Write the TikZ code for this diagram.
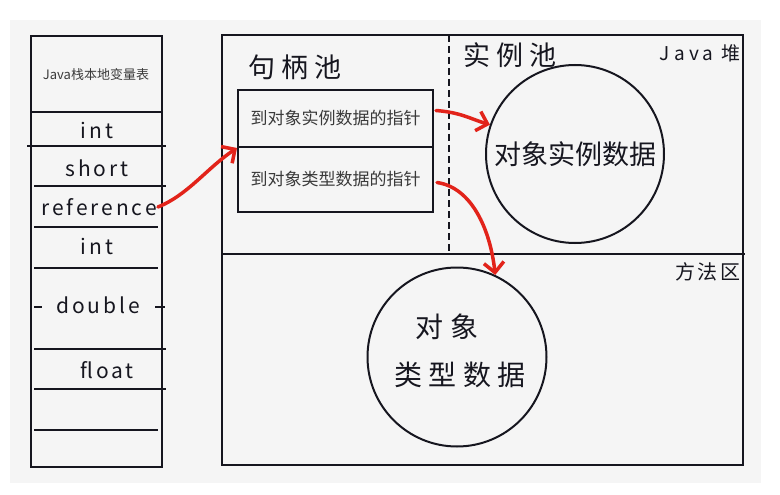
\documentclass[tikz,border=0pt]{standalone}
\usepackage{fontspec}
\setmainfont{Noto Sans CJK SC}
\newfontfamily\handFont[LetterSpace=14]{Noto Sans CJK SC}
\newfontfamily\wideFont[LetterSpace=22]{Noto Sans CJK SC}
\usetikzlibrary{arrows.meta,calc}

\begin{document}
\begin{tikzpicture}[x=1pt, y=-1pt]
    \definecolor{bgColour}{HTML}{F5F5F5}
    \definecolor{lineColour}{HTML}{16161F}
    \definecolor{arrowColour}{HTML}{E2231A}
    \definecolor{smallTextColour}{HTML}{3A3A3A}

    \tikzset{
        line/.style={draw=lineColour, line width=2pt},
        cell/.style={inner sep=0pt, font=\handFont\fontsize{21}{21}\selectfont, text=lineColour},
        ptrCell/.style={line, minimum width=195pt, inner sep=0pt, font=\fontsize{17}{17}\selectfont, text=smallTextColour},
        poolLabel/.style={inner sep=0pt, font=\wideFont\fontsize{27}{27}\selectfont, text=lineColour},
        redArrow/.style={draw=arrowColour, line width=3.5pt, line cap=round,
            -{Straight Barb[length=10pt, width=20pt, line width=3.5pt]}}
    }

    % Background
    \useasboundingbox (0,0) rectangle (780,495);
    \fill[white] (0,0) rectangle (780,495);
    \fill[bgColour] (10,20) rectangle (761,483);

    % Draw stack frame
    \draw[line] (31,36) rectangle (162,467);
    \foreach \y/\xa/\xb in {112/31/162, 146/27/166, 186/34/166, 227/34/158,
                            268/34/158, 349/34/166, 389/34/166, 430/34/158}
        \draw[line] (\xa,\y) -- (\xb,\y);
    \draw[line] (34,307) -- (42,307);
    \draw[line] (155,307) -- (165,307);

    \node[inner sep=0pt, font=\fontsize{13}{13}\selectfont, text=smallTextColour] (stackTitle) at (96,75) {Java栈本地变量表};
    \node[cell] (intA) at (97,130) {int};
    \node[cell] (short) at (97,168) {short};
    \node[cell] (reference) at (99,207) {reference};
    \node[cell] (intB) at (97,246) {int};
    \node[cell] (double) at (98,305) {double};
    \node[cell] (float) at (107,370) {float};

    % Draw heap and method area
    \draw[line] (222,35) rectangle (743,465);
    \draw[line] (222,254) -- (745,254);
    \draw[line, dash pattern=on 7pt off 4pt] (449,35) -- (449,254);

    \node[poolLabel] (handlePool) at (295,67) {句柄池};
    \node[poolLabel] (instPool) at (510,55) {实例池};
    \node[inner sep=0pt, anchor=east, font=\wideFont\fontsize{19}{19}\selectfont, text=lineColour] (heapTitle) at (741,53) {Java 堆};
    \node[inner sep=0pt, anchor=east, font=\handFont\fontsize{20}{20}\selectfont, text=lineColour] (methodArea) at (741,272) {方法区};

    % Handle pool pointers
    \node[ptrCell, minimum height=57pt] (ptrInst) at (335.5,118.5) {到对象实例数据的指针};
    \node[ptrCell, minimum height=65pt] (ptrType) at (335.5,179.5) {到对象类型数据的指针};

    % Object data
    \node[line, circle, minimum size=178pt, inner sep=0pt, font=\fontsize{27}{27}\selectfont, text=lineColour] (instData) at (575,154) {对象实例数据};
    \node[line, circle, minimum size=179pt, inner sep=0pt] (typeData) at (457,357) {};
    \node[inner sep=0pt, font=\wideFont\fontsize{28}{28}\selectfont, text=lineColour] (typeTextA) at (447,327) {对象};
    \node[inner sep=0pt, font=\wideFont\fontsize{28}{28}\selectfont, text=lineColour] (typeTextB) at (460,375) {类型数据};

    % Arrows
    \draw[redArrow] ($(reference.east)+(1,0)$) .. controls +(30,-12) and +(-30,20) .. (ptrInst.south west);
    \draw[redArrow] ($(ptrInst.east)+(2,-8)$) .. controls +(25,2) and +(-20,-6) .. (instData.161);
    \draw[redArrow] ($(ptrType.east)+(3,3)$) .. controls +(35,5) and +(-5,-45) .. (typeData.65);

\end{tikzpicture}
\end{document}
